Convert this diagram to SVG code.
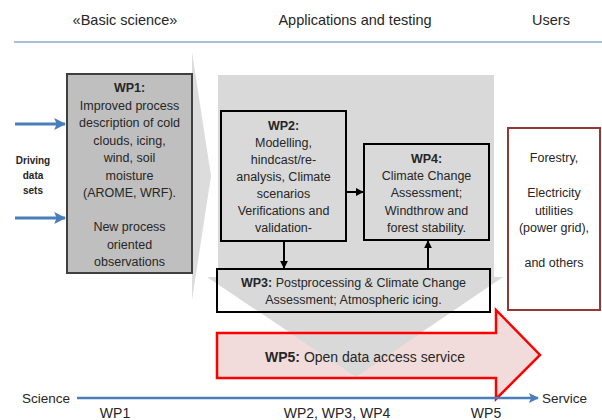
<svg xmlns="http://www.w3.org/2000/svg" width="602" height="420" viewBox="0 0 602 420">
<defs>
<style>
text{font-family:"Liberation Sans",Arial,sans-serif;fill:#262626}
.hdr{font-size:14.5px;text-anchor:middle}
.lbl{font-size:14px;text-anchor:middle}
.bx{font-size:12.5px;text-anchor:middle}
.b{font-weight:bold}
.conn{stroke:#000;stroke-width:2;fill:none}
.blue{stroke:#4a7ebb;stroke-width:3;fill:none}
</style>
<marker id="ah" viewBox="0 0 10 10" refX="9" refY="5" markerWidth="4" markerHeight="4" orient="auto" markerUnits="strokeWidth"><path d="M0,0 L10,5 L0,10 z" fill="#000"/></marker>
<marker id="bh" viewBox="0 0 10 10" refX="9" refY="5" markerWidth="4" markerHeight="4" orient="auto" markerUnits="strokeWidth"><path d="M0,0 L10,5 L0,10 L2,5 z" fill="#4a7ebb"/></marker>
</defs>
<rect width="602" height="420" fill="#fff"/>

<g id="header">
<text class="hdr" x="125" y="25">«Basic science»</text>
<text class="hdr" x="355" y="25">Applications and testing</text>
<text class="hdr" x="551" y="25">Users</text>
<line x1="14" y1="42" x2="602" y2="42" stroke="#a7bfdd" stroke-width="2"/>
</g>

<g id="background">
<polygon points="192,52 211,176 192,300" fill="#dcdcdc"/>
<polygon points="218,75 494,75 494,277 503,277 356,377 207,277 218,277" fill="#d9d9d9"/>
</g>

<g id="wp5">
<polygon points="217,333 496,333 496,310 540,355 496,399 496,378 217,378" fill="#f2dcdb"/>
<polygon points="290,333 421,333 356,377" fill="#d9d9d9"/>
<polygon points="217,333 496,333 496,310 540,355 496,399 496,378 217,378" fill="none" stroke="#ff0000" stroke-width="2.5"/>
<text x="265" y="362" font-size="14"><tspan class="b">WP5:</tspan> Open data access service</text>
</g>

<g id="driving">
<text x="33" y="164" font-size="10" text-anchor="middle" class="b">Driving</text>
<text x="33" y="179" font-size="10" text-anchor="middle" class="b">data</text>
<text x="33" y="194" font-size="10" text-anchor="middle" class="b">sets</text>
</g>

<g id="wp1">
<rect x="67" y="74" width="125" height="199" fill="#bfbfbf" stroke="#404040" stroke-width="2"/>
<text class="bx" font-size="13.5"><tspan x="129.5" y="92" class="b">WP1:</tspan><tspan x="129.5" y="109.5">Improved process</tspan><tspan x="129.5" y="127">description of cold</tspan><tspan x="129.5" y="144.5">clouds, icing,</tspan><tspan x="129.5" y="162">wind, soil</tspan><tspan x="129.5" y="179.5">moisture</tspan><tspan x="129.5" y="197">(AROME, WRF).</tspan><tspan x="129.5" y="231">New process</tspan><tspan x="129.5" y="248.5">oriented</tspan><tspan x="129.5" y="266">observations</tspan></text>
</g>

<g id="wp2">
<rect x="221" y="111" width="125" height="130" fill="#d9d9d9" stroke="#000" stroke-width="2"/>
<text class="bx"><tspan x="283.5" y="130" class="b">WP2:</tspan><tspan x="283.5" y="147">Modelling,</tspan><tspan x="283.5" y="164">hindcast/re-</tspan><tspan x="283.5" y="181">analysis, Climate</tspan><tspan x="283.5" y="198">scenarios</tspan><tspan x="283.5" y="215">Verifications and</tspan><tspan x="283.5" y="232">validation-</tspan></text>
</g>

<g id="wp4">
<rect x="364" y="144" width="125" height="96" fill="#d9d9d9" stroke="#000" stroke-width="2"/>
<text class="bx" font-size="13"><tspan x="426.5" y="163" class="b">WP4:</tspan><tspan x="426.5" y="180">Climate Change</tspan><tspan x="426.5" y="197">Assessment;</tspan><tspan x="426.5" y="215">Windthrow and</tspan><tspan x="426.5" y="232">forest stability.</tspan></text>
</g>

<g id="wp3">
<rect x="217" y="269" width="273" height="43" fill="none" stroke="#000" stroke-width="2"/>
<text class="bx" font-size="13"><tspan x="353.5" y="287"><tspan class="b">WP3:</tspan> Postprocessing &amp; Climate Change</tspan><tspan x="353.5" y="304">Assessment; Atmospheric icing.</tspan></text>
</g>

<g id="users">
<rect x="508" y="128" width="92" height="182" fill="#fff" stroke="#953735" stroke-width="2"/>
<text class="bx"><tspan x="554" y="162">Forestry,</tspan><tspan x="554" y="197">Electricity</tspan><tspan x="554" y="214.5">utilities</tspan><tspan x="554" y="232">(power grid),</tspan><tspan x="554" y="267">and others</tspan></text>
</g>

<g id="connectors">
<line class="blue" x1="15" y1="124" x2="65" y2="124" marker-end="url(#bh)"/>
<line class="blue" x1="15" y1="218" x2="65" y2="218" marker-end="url(#bh)"/>
<line class="conn" x1="346" y1="192" x2="363" y2="192" marker-end="url(#ah)"/>
<line class="conn" x1="284" y1="241" x2="284" y2="268" marker-end="url(#ah)"/>
<line class="conn" x1="428" y1="269" x2="428" y2="241" marker-end="url(#ah)"/>
<line x1="77" y1="398" x2="538" y2="398" stroke="#4a7ebb" stroke-width="2.5" marker-end="url(#bh)"/>
</g>

<g id="axis">
<text x="22" y="403" font-size="13.5">Science</text>
<text x="542" y="403" font-size="13.5">Service</text>
<text class="lbl" x="115" y="418">WP1</text>
<text class="lbl" x="337" y="418">WP2, WP3, WP4</text>
<text class="lbl" x="486" y="418">WP5</text>
</g>
</svg>
